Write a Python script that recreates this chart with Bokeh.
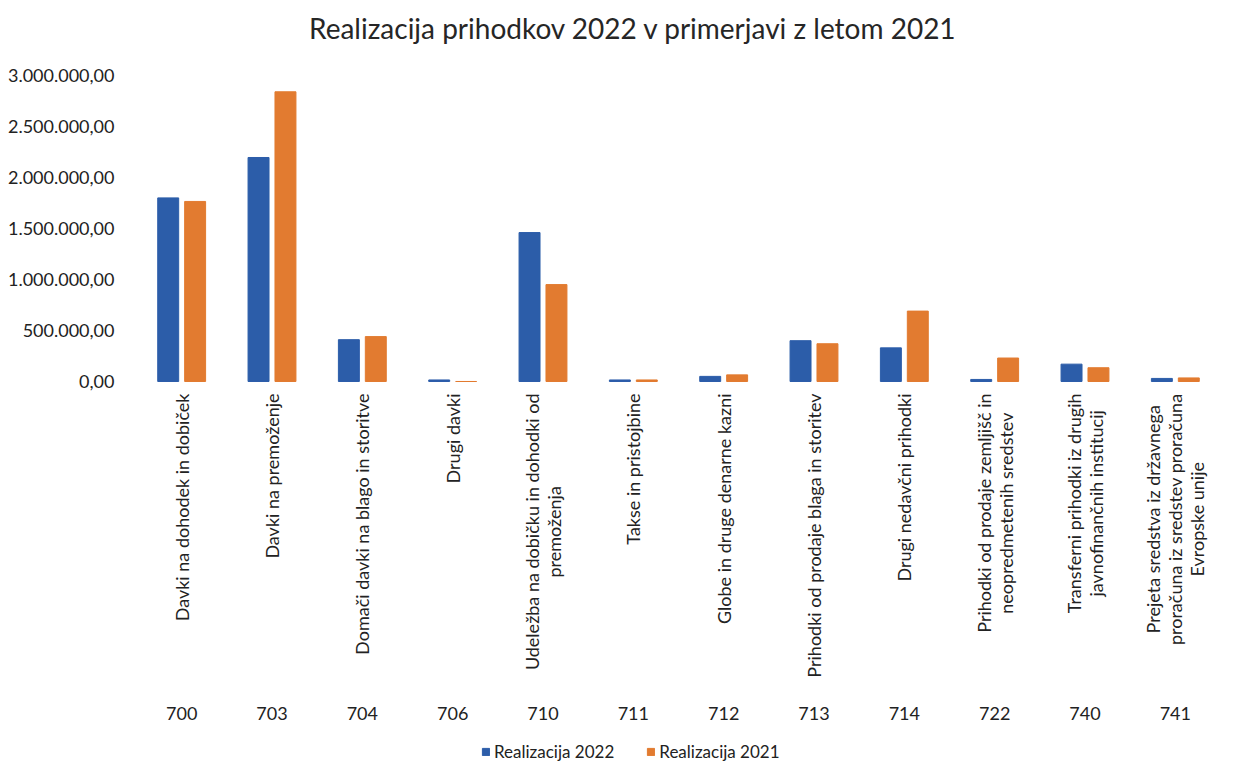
import math
from bokeh.plotting import figure
from bokeh.models import (ColumnDataSource, FactorRange, Range1d, FixedTicker,
                          CustomJSTickFormatter, Legend, LegendItem)
from bokeh.transform import dodge
from bokeh.core.properties import value
from bokeh.embed import file_html
from bokeh.resources import INLINE

# ---- data ----
title = "Realizacija prihodkov 2022 v primerjavi z letom 2021"
codes = ["700", "703", "704", "706", "710", "711", "712", "713", "714", "722", "740", "741"]
labels = [
    "Davki na dohodek in dobiček",
    "Davki na premoženje",
    "Domači davki na blago in storitve",
    "Drugi davki",
    "Udeležba na dobičku in dohodki od\npremoženja",
    "Takse in pristojbine",
    "Globe in druge denarne kazni",
    "Prihodki od prodaje blaga in storitev",
    "Drugi nedavčni prihodki",
    "Prihodki od prodaje zemljišč in\nneopredmetenih sredstev",
    "Transferni prihodki iz drugih\njavnofinančnih institucij",
    "Prejeta sredstva iz državnega\nproračuna iz sredstev proračuna\nEvropske unije",
]
real_2022 = [1800000, 2196000, 410000, 15000, 1460000, 15000, 50000, 400000, 330000, 20000, 170000, 30000]
real_2021 = [1765000, 2840000, 440000, 0, 950000, 15000, 65000, 370000, 690000, 230000, 135000, 35000]
y_ticks = [0, 500000, 1000000, 1500000, 2000000, 2500000, 3000000]
series_names = ["Realizacija 2022", "Realizacija 2021"]

BLUE = "#2C5DA9"
ORANGE = "#E27B30"
FONT = "Lato"

src = ColumnDataSource(dict(code=codes, label=labels, y2022=real_2022, y2021=real_2021))

p = figure(width=1233, height=763, output_backend="svg", toolbar_location=None,
           x_range=FactorRange(*codes), y_range=Range1d(-3745000, 3735000),
           x_axis_location=None,
           min_border_left=136, min_border_right=13, min_border_top=0, min_border_bottom=0,
           outline_line_color=None)

r1 = p.vbar(x=dodge("code", -0.149, range=p.x_range), top="y2022", width=0.232,
            source=src, fill_color=BLUE, line_color=BLUE)
r2 = p.vbar(x=dodge("code", 0.149, range=p.x_range), top="y2021", width=0.232,
            source=src, fill_color=ORANGE, line_color=ORANGE)

# chart title, centred over the middle category
p.text(x=[codes[5]], y=[0], text=[title], y_offset=-353,
       text_align="center", text_baseline="middle", text_font=value(FONT),
       text_font_size="28px", text_color="#262626")

# category labels, vertical, hanging below the baseline
p.text(x="code", y=0, text="label", source=src, angle=math.pi / 2, y_offset=12,
       anchor="center_right", text_align="center", text_font=value(FONT),
       text_font_size="18px", text_line_height=1.0, text_color="#222222")

# account codes row
p.text(x="code", y=0, text="code", source=src, y_offset=332,
       text_align="center", text_baseline="middle", text_font=value(FONT),
       text_font_size="18px", text_color="#222222")

p.xgrid.visible = False
p.ygrid.visible = False

yax = p.yaxis[0]
yax.ticker = FixedTicker(ticks=y_ticks)
yax.formatter = CustomJSTickFormatter(code="""
    const s = Math.round(tick).toString().replace(/\\B(?=(\\d{3})+(?!\\d))/g, ".");
    return s + ",00";
""")
yax.axis_line_color = None
yax.major_tick_line_color = None
yax.minor_tick_line_color = None
yax.major_label_standoff = 16
yax.major_label_text_font = FONT
yax.major_label_text_font_size = "18px"
yax.major_label_text_color = "#222222"

legend = Legend(items=[LegendItem(label=series_names[0], renderers=[r1]),
                       LegendItem(label=series_names[1], renderers=[r2])],
                orientation="horizontal", location=(345, 1))
legend.border_line_color = None
legend.background_fill_alpha = 0
legend.label_text_font = FONT
legend.label_text_font_size = "17px"
legend.label_text_color = "#222222"
legend.glyph_width = 9
legend.glyph_height = 9
legend.spacing = 32
legend.padding = 2
legend.margin = 0
legend.label_standoff = 4
p.add_layout(legend)

open("out.html", "w").write(file_html(p, INLINE))
